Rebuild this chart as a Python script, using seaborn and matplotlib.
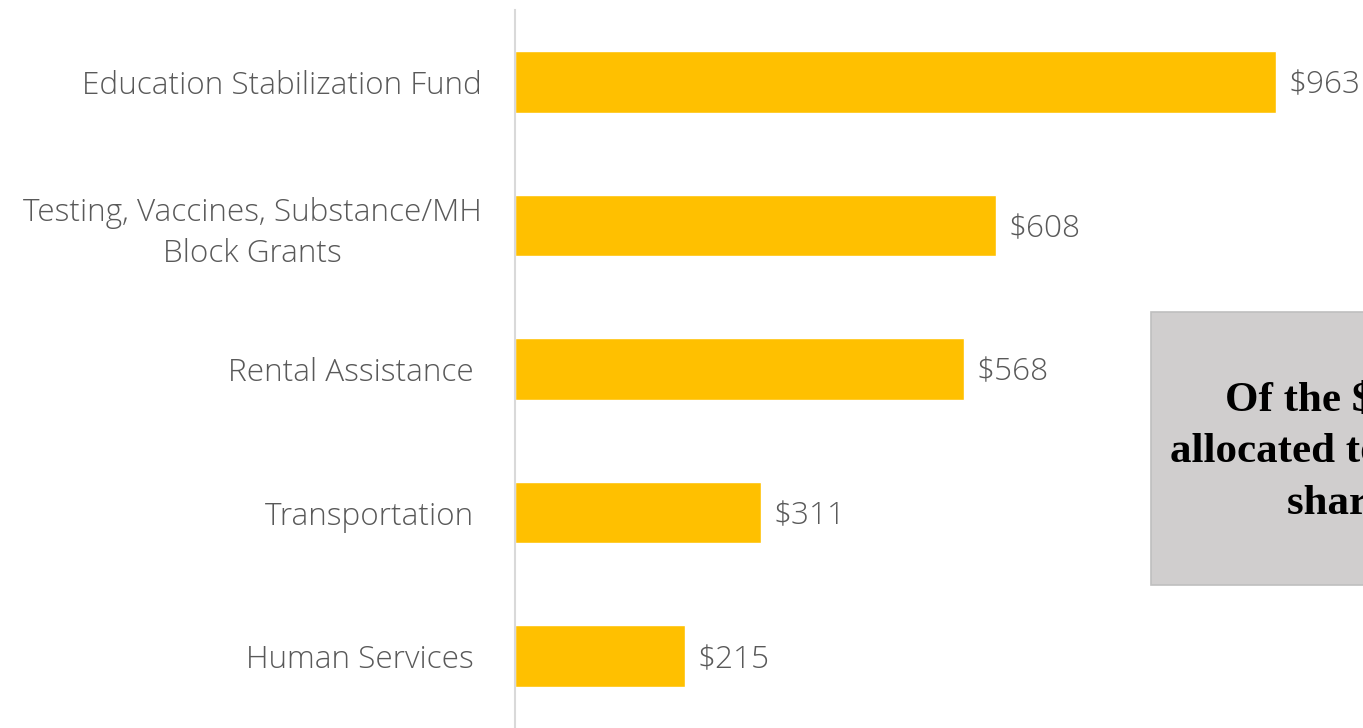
import matplotlib
matplotlib.use("Agg")
import matplotlib.pyplot as plt
import pandas as pd
import seaborn as sns
from matplotlib.patches import Rectangle

# Data (millions of dollars)
categories = ["Education Stabilization Fund",
              "Testing, Vaccines, Substance/MH\nBlock Grants",
              "Rental Assistance ",
              "Transportation ",
              "Human Services "]
values = [963, 608, 568, 311, 215]
value_labels = ["$963", "$608", "$568", "$311", "$215"]

box_lines = ["Of the $2.6 billion", "allocated to the state, the", "share is"]

df = pd.DataFrame({"category": categories, "value": values})

sns.set_style("white")
plt.rcParams["font.family"] = ["Open Sans", "DejaVu Sans"]

fig = plt.figure(figsize=(13.63, 7.28), dpi=100)
ax = fig.add_axes([515 / 1363, 0, 1 - 515 / 1363, 718 / 728])

sns.barplot(data=df, x="value", y="category", color="#FFC000", width=0.43,
            saturation=1, ax=ax)

ax.set_xlim(0, 1073)
ax.set_ylim(4.5, -0.5)
ax.set_xlabel("")
ax.set_ylabel("")
ax.set_xticks([])
for s in ["top", "right", "bottom"]:
    ax.spines[s].set_visible(False)
ax.spines["left"].set_color("#D9D9D9")
ax.spines["left"].set_linewidth(1.5)
ax.tick_params(axis="y", length=0, pad=24, labelsize=22.7, labelcolor="#595959")
for t in ax.get_yticklabels():
    t.set_multialignment("center")
    t.set_fontweight("light")
    t.set_linespacing(1.35)

for i, (v, lab) in enumerate(zip(values, value_labels)):
    ax.text(v + 16, i + 0.025, lab, va="center", ha="left", fontsize=22.7,
            color="#595959", fontweight="light")

# callout box
box = Rectangle((1151 / 1363, 1 - 585 / 728), 0.3, (585 - 312) / 728,
                transform=fig.transFigure, facecolor="#D0CECE",
                edgecolor="#BFBFBF", linewidth=1.2, zorder=5)
fig.patches.append(box)
starts = [1225, 1170, 1287]
baselines = [411, 461, 514]
for line, x0, yb in zip(box_lines, starts, baselines):
    fig.text(x0 / 1363, 1 - yb / 728, line, ha="left", va="baseline",
             fontsize=31, fontweight="bold", family="Liberation Serif",
             color="black", zorder=6)

fig.savefig("out.png", dpi=100)
